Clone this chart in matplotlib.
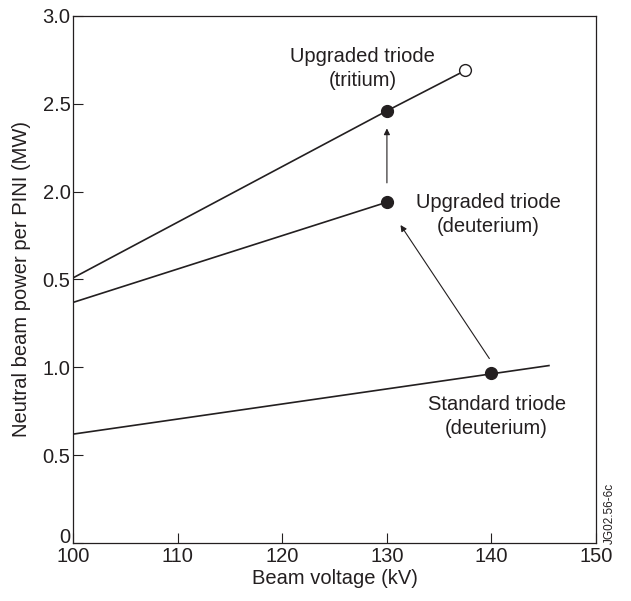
import matplotlib
matplotlib.use("Agg")
import matplotlib.pyplot as plt
from matplotlib.transforms import ScaledTranslation

# data
tritium_kv = [100, 130, 137.5]
tritium_mw = [1.51, 2.46, 2.69]
upg_deut_kv = [100, 130]
upg_deut_mw = [1.37, 1.94]
std_deut_kv = [100, 145.5]
std_deut_mw = [0.62, 1.01]

filled_kv = [130, 130, 140]
filled_mw = [2.46, 1.94, 0.97]
open_kv = [137.5]
open_mw = [2.69]

x_ticks = [100, 110, 120, 130, 140, 150]
y_ticks = [0, 0.5, 1.0, 1.5, 2.0, 2.5, 3.0]
y_tick_labels = ["0", "0.5", "1.0", "0.5", "2.0", "2.5", "3.0"]

ink = "#231f20"
plt.rcParams["font.family"] = ["Liberation Sans", "DejaVu Sans"]

fig = plt.figure(figsize=(6.31, 6.01), dpi=100)
ax = fig.add_axes([0.1162, 0.0965, 0.8283, 0.8769])

ax.plot(tritium_kv, tritium_mw, color=ink, lw=1.2)
ax.plot(upg_deut_kv, upg_deut_mw, color=ink, lw=1.2)
ax.plot(std_deut_kv, std_deut_mw, color=ink, lw=1.2)
ax.plot(filled_kv, filled_mw, "o", color=ink, ms=8.5, ls="none", zorder=3)
ax.plot(open_kv, open_mw, "o", mfc="white", mec=ink, mew=1.0, ms=8.5, ls="none", zorder=3)

arrow = dict(arrowstyle="-|>", color=ink, lw=0.8, mutation_scale=9, shrinkA=0, shrinkB=0)
ax.annotate("", xy=(130, 2.36), xytext=(130, 2.05), arrowprops=arrow)
ax.annotate("", xy=(131.3, 1.81), xytext=(139.8, 1.05), arrowprops=arrow)

ax.text(127.7, 2.70, "Upgraded triode\n(tritium)", ha="center", va="center",
        fontsize=14.5, color=ink, linespacing=1.3)
ax.text(139.7, 1.87, "Upgraded triode\n(deuterium)", ha="center", va="center",
        fontsize=14.5, color=ink, linespacing=1.3)
ax.text(140.5, 0.72, "Standard triode\n(deuterium)", ha="center", va="center",
        fontsize=14.5, color=ink, linespacing=1.3)

ax.set_xlim(100, 150)
ax.set_ylim(0, 3.0)
ax.set_xticks(x_ticks)
ax.set_yticks(y_ticks)
ax.set_yticklabels(y_tick_labels)
ax.tick_params(direction="in", length=7.5, width=0.8, color=ink, labelcolor=ink,
               labelsize=14.5, pad=2)
ax.tick_params(axis="x", pad=3)
for s in ax.spines.values():
    s.set_color(ink)
    s.set_linewidth(0.9)

# the "0" on the y axis sits a little higher, clear of the "100"
zero_label = ax.get_yticklabels()[0]
zero_label.set_transform(zero_label.get_transform() +
                         ScaledTranslation(0, 8 / 100, fig.dpi_scale_trans))

ax.set_xlabel("Beam voltage (kV)", fontsize=14.5, color=ink, labelpad=2)
ax.set_ylabel("Neutral beam power per PINI (MW)", fontsize=14.5, color=ink, labelpad=8)

fig.text(0.966, 0.145, "JG02.56-6c", rotation=90, ha="center", va="center",
         fontsize=8.5, color=ink)

fig.savefig("out.png", dpi=100, facecolor="white")
